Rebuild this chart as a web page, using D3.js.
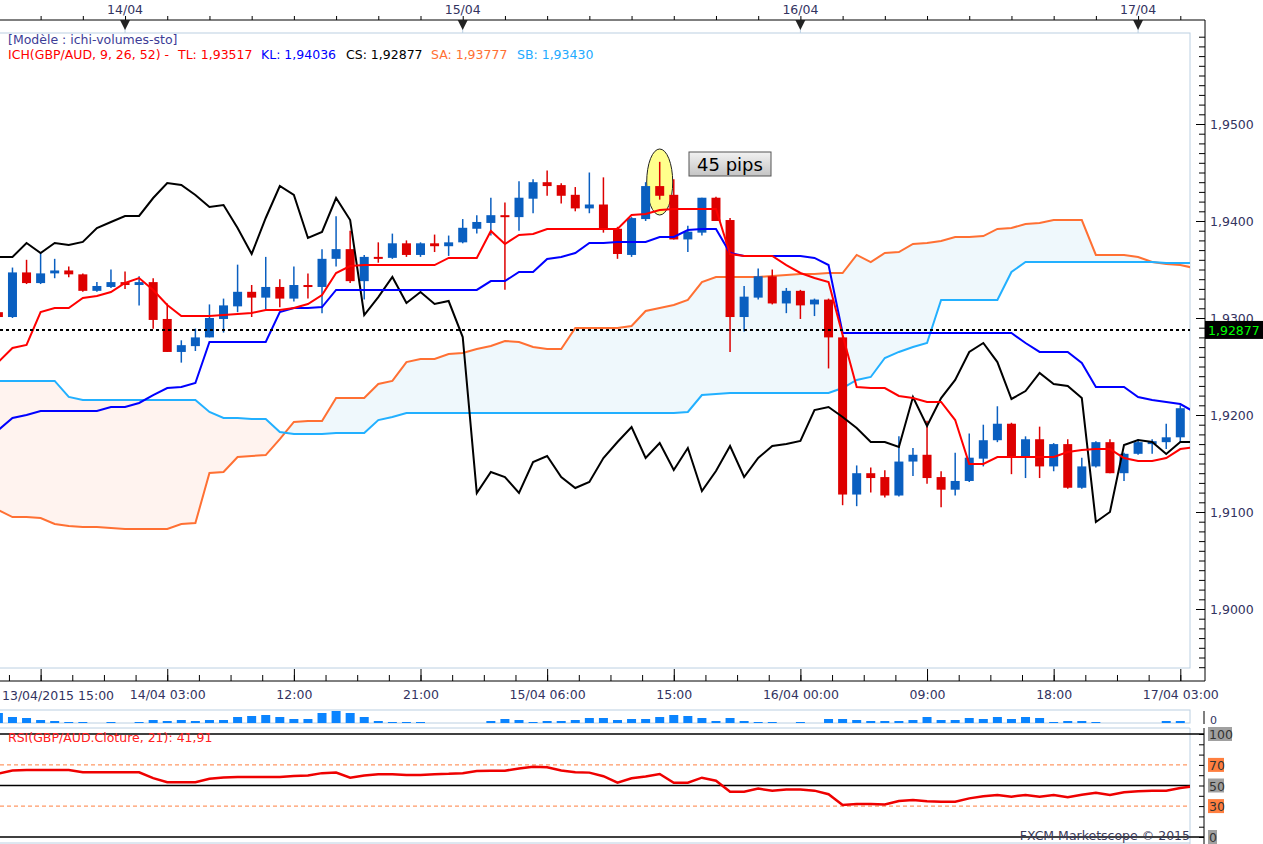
<!DOCTYPE html>
<html>
<head>
<meta charset="utf-8">
<script src="https://cdn.jsdelivr.net/npm/d3@7"></script>
<style>
  body { margin: 0; background: #fff; overflow: hidden; }
  svg { display: block; font-family: "DejaVu Sans", sans-serif; font-size: 12.5px; }
</style>
</head>
<body>
<div id="chart"></div>
<script>
// GBP/AUD hourly, 13/04/2015 15:00 -> 17/04/2015 03:00 (85 bars)
var open  = [1.9306,1.9301,1.9347,1.9336,1.9346,1.9349,1.9345,1.9328,1.9332,1.9337,
             1.9334,1.9337,1.9299,1.9265,1.9271,1.9280,1.9299,1.9312,1.9327,1.9321,
             1.9332,1.9320,1.9334,1.9332,1.9361,1.9371,1.9338,1.9363,1.9362,1.9377,
             1.9365,1.9377,1.9374,1.9378,1.9392,1.9398,1.9406,1.9404,1.9423,1.9440,
             1.9437,1.9427,1.9413,1.9417,1.9392,1.9365,1.9402,1.9436,1.9427,1.9381,
             1.9388,1.9424,1.9401,1.9301,1.9321,1.9343,1.9315,1.9328,1.9314,1.9319,
             1.9280,1.9118,1.9140,1.9136,1.9117,1.9152,1.9159,1.9136,1.9123,1.9132,
             1.9155,1.9174,1.9191,1.9157,1.9175,1.9147,1.9170,1.9125,1.9147,1.9172,
             1.9140,1.9160,1.9170,1.9172,1.9177];
var high  = [1.9309,1.9352,1.9360,1.9367,1.9361,1.9353,1.9346,1.9337,1.9350,1.9348,
             1.9343,1.9341,1.9315,1.9277,1.9289,1.9314,1.9320,1.9355,1.9334,1.9363,
             1.9340,1.9353,1.9346,1.9371,1.9405,1.9390,1.9365,1.9378,1.9387,1.9380,
             1.9378,1.9386,1.9385,1.9402,1.9406,1.9424,1.9419,1.9441,1.9443,1.9452,
             1.9439,1.9435,1.9450,1.9445,1.9394,1.9404,1.9440,1.9461,1.9443,1.9395,
             1.9424,1.9425,1.9403,1.9333,1.9351,1.9350,1.9331,1.9329,1.9320,1.9320,
             1.9282,1.9148,1.9146,1.9143,1.9178,1.9166,1.9194,1.9142,1.9161,1.9181,
             1.9190,1.9209,1.9192,1.9178,1.9188,1.9171,1.9175,1.9156,1.9173,1.9175,
             1.9161,1.9175,1.9175,1.9191,1.9210];
var low   = [1.9299,1.9300,1.9335,1.9335,1.9341,1.9342,1.9327,1.9327,1.9331,1.9330,
             1.9313,1.9289,1.9265,1.9254,1.9266,1.9280,1.9285,1.9306,1.9301,1.9309,
             1.9311,1.9317,1.9320,1.9305,1.9353,1.9336,1.9319,1.9357,1.9361,1.9363,
             1.9363,1.9368,1.9364,1.9377,1.9387,1.9385,1.9329,1.9390,1.9408,1.9426,
             1.9418,1.9410,1.9408,1.9388,1.9361,1.9363,1.9400,1.9422,1.9381,1.9368,
             1.9385,1.9400,1.9265,1.9286,1.9319,1.9314,1.9305,1.9299,1.9302,1.9248,
             1.9107,1.9106,1.9120,1.9115,1.9116,1.9137,1.9129,1.9105,1.9117,1.9131,
             1.9147,1.9172,1.9139,1.9135,1.9135,1.9142,1.9124,1.9124,1.9146,1.9140,
             1.9132,1.9159,1.9160,1.9165,1.9172];
var close = [1.9301,1.9347,1.9336,1.9346,1.9349,1.9345,1.9328,1.9333,1.9337,1.9334,
             1.9337,1.9298,1.9265,1.9272,1.9280,1.9300,1.9313,1.9327,1.9321,1.9332,
             1.9320,1.9334,1.9332,1.9361,1.9371,1.9338,1.9363,1.9362,1.9377,1.9365,
             1.9377,1.9374,1.9378,1.9393,1.9399,1.9406,1.9404,1.9424,1.9440,1.9436,
             1.9426,1.9413,1.9417,1.9391,1.9366,1.9403,1.9436,1.9426,1.9381,1.9389,
             1.9424,1.9400,1.9301,1.9322,1.9343,1.9315,1.9328,1.9313,1.9319,1.9280,
             1.9118,1.9140,1.9135,1.9117,1.9152,1.9159,1.9135,1.9123,1.9132,1.9156,
             1.9174,1.9191,1.9157,1.9175,1.9147,1.9170,1.9125,1.9147,1.9172,1.9140,
             1.9160,1.9172,1.9173,1.9177,1.9207];
var volume = [10,6,5,3,2,1,1,0,1,0, 1,3,2,3,2,3,3,6,7,8, 6,4,4,10,12,10,6,2,1,1,
              1,0,0,0,0,2,4,3,1,2, 2,3,5,5,3,4,4,6,8,7, 5,2,5,2,1,1,0,1,0,4,
              4,3,2,2,2,3,6,3,3,5, 4,6,4,6,5,1,2,2,1,0, 0,0,0,2,2];

// Ichimoku lines (86 slots, last one runs past the right edge)
var tenkan = [1.92546,1.92691,1.92722,1.93062,1.93103,1.93103,1.93206,1.93227,1.93268,1.93361,
              1.93412,1.93289,1.93134,1.93021,1.93021,1.93021,1.93031,1.93041,1.93052,1.93082,
              1.93082,1.93103,1.93144,1.93237,1.93464,1.93536,1.93546,1.93546,1.93546,1.93546,
              1.93546,1.93546,1.93619,1.93619,1.93619,1.93897,1.93763,1.93856,1.93866,1.93918,
              1.93918,1.93918,1.93918,1.93918,1.93918,1.94062,1.94072,1.94113,1.94124,1.94124,
              1.94124,1.94124,1.93660,1.93639,1.93639,1.93639,1.93546,1.93464,1.93412,1.93371,
              1.92825,1.92289,1.92278,1.92278,1.92196,1.92175,1.92134,1.92134,1.91948,1.91495,
              1.91495,1.91567,1.91567,1.91567,1.91567,1.91567,1.91618,1.91639,1.91649,1.91649,
              1.91557,1.91526,1.91526,1.91557,1.91649,1.91670];
var kijun  = [1.91845,1.91969,1.92000,1.92041,1.92041,1.92041,1.92041,1.92041,1.92082,1.92082,
              1.92124,1.92206,1.92278,1.92289,1.92330,1.92753,1.92753,1.92753,1.92753,1.92753,
              1.93062,1.93103,1.93103,1.93113,1.93289,1.93289,1.93289,1.93289,1.93289,1.93289,
              1.93289,1.93289,1.93289,1.93289,1.93289,1.93381,1.93381,1.93474,1.93474,1.93608,
              1.93629,1.93670,1.93773,1.93773,1.93784,1.93784,1.93784,1.93835,1.93835,1.93907,
              1.93918,1.93918,1.93670,1.93639,1.93639,1.93639,1.93639,1.93639,1.93619,1.93546,
              1.92845,1.92845,1.92845,1.92845,1.92845,1.92845,1.92845,1.92845,1.92845,1.92845,
              1.92845,1.92845,1.92845,1.92742,1.92650,1.92650,1.92650,1.92536,1.92289,1.92289,
              1.92289,1.92186,1.92155,1.92134,1.92113,1.92031];
var chikou = [1.93629,1.93629,1.93773,1.93670,1.93773,1.93753,1.93784,1.93928,1.93990,1.94052,
              1.94052,1.94237,1.94392,1.94371,1.94268,1.94144,1.94165,1.93928,1.93660,1.94031,
              1.94361,1.94268,1.93825,1.93887,1.94237,1.94010,1.93031,1.93216,1.93423,1.93155,
              1.93268,1.93144,1.93175,1.92804,1.91196,1.91412,1.91361,1.91196,1.91515,1.91577,
              1.91361,1.91247,1.91309,1.91557,1.91722,1.91876,1.91557,1.91711,1.91433,1.91660,
              1.91216,1.91423,1.91680,1.91361,1.91557,1.91680,1.91701,1.91732,1.92051,1.92082,
              1.91980,1.91866,1.91722,1.91722,1.91670,1.92186,1.91887,1.92175,1.92361,1.92650,
              1.92742,1.92546,1.92165,1.92247,1.92433,1.92320,1.92299,1.92175,1.90897,1.91000,
              1.91691,1.91742,1.91722,1.91598,1.91722,1.91722];
var senkouA = [1.91020,1.90948,1.90948,1.90938,1.90876,1.90856,1.90845,1.90845,1.90835,1.90825,
               1.90825,1.90825,1.90825,1.90876,1.90886,1.91402,1.91412,1.91567,1.91577,1.91587,
               1.91752,1.91928,1.91938,1.91938,1.92175,1.92175,1.92175,1.92320,1.92351,1.92546,
               1.92577,1.92577,1.92629,1.92639,1.92680,1.92711,1.92763,1.92753,1.92701,1.92680,
               1.92680,1.92897,1.92897,1.92897,1.92897,1.92918,1.93072,1.93103,1.93134,1.93186,
               1.93371,1.93423,1.93423,1.93423,1.93423,1.93433,1.93443,1.93454,1.93454,1.93464,
               1.93464,1.93650,1.93577,1.93670,1.93680,1.93763,1.93773,1.93794,1.93835,1.93835,
               1.93845,1.93918,1.93928,1.93969,1.93979,1.94010,1.94010,1.94010,1.93650,1.93650,
               1.93650,1.93629,1.93577,1.93557,1.93546,1.93515];
var senkouB = [1.92351,1.92351,1.92351,1.92351,1.92351,1.92186,1.92155,1.92155,1.92155,1.92155,
               1.92155,1.92155,1.92155,1.92155,1.92155,1.92031,1.91969,1.91969,1.91959,1.91959,
               1.91825,1.91804,1.91804,1.91804,1.91814,1.91814,1.91814,1.91948,1.91980,1.92021,
               1.92021,1.92021,1.92021,1.92021,1.92021,1.92021,1.92021,1.92021,1.92021,1.92021,
               1.92021,1.92021,1.92021,1.92021,1.92021,1.92021,1.92021,1.92021,1.92021,1.92031,
               1.92206,1.92216,1.92227,1.92227,1.92227,1.92227,1.92227,1.92227,1.92227,1.92227,
               1.92278,1.92361,1.92392,1.92588,1.92650,1.92701,1.92742,1.93186,1.93186,1.93186,
               1.93186,1.93186,1.93474,1.93577,1.93577,1.93577,1.93577,1.93577,1.93577,1.93577,
               1.93577,1.93577,1.93577,1.93567,1.93567,1.93567];

// RSI(21)
var rsi = [61.5,64.5,65,65,65,65,62.8,62.8,62.8,62.8, 62.8,57.2,53.1,53.1,53.1,56.5,57.8,58.3,58.3,58.2,
           58.3,59.2,59.8,62,62.5,57.6,59.8,61,61,60.2, 60.2,61,61.3,62,64,64.2,64.4,66.5,68.3,67.7,
           64.5,62.8,62.5,59,52.7,57,58.8,61.2,52.7,52.7, 57.6,54.7,44,44,47,45,46,46,45,41.5,
           31.1,32,32,31.5,35,35.9,34.8,34.3,34.3,37.5, 39.5,40.8,39.2,40.8,39.2,40.8,38.5,41,43,40.8,
           43.5,44.5,45,45,47.5,49.5];

var priceTicks = [1.90, 1.91, 1.92, 1.93, 1.94, 1.95];
var rsiLevels  = [100, 70, 50, 30, 0];
var lastPrice  = 1.92877;

var legendItems = [
  { text: "ICH(GBP/AUD, 9, 26, 52) -", color: "#ff0000", x: 8 },
  { text: "TL: 1,93517", color: "#ff0000", x: 178 },
  { text: "KL: 1,94036", color: "#0000ff", x: 261 },
  { text: "CS: 1,92877", color: "#000000", x: 346 },
  { text: "SA: 1,93777", color: "#ff7033", x: 431 },
  { text: "SB: 1,93430", color: "#22aaff", x: 517 }
];

var W = 1263, H = 844;
var plotR = 1190, plotT = 33, plotB = 668, axisX = 1205;
var navy = "#33335f";

var locale = d3.formatLocale({ decimal: ",", thousands: " ", grouping: [3], currency: ["", ""] });
var fmtPrice = locale.format(".4f");
var fmtLast = locale.format(".5f");

var t0 = new Date(2015, 3, 13, 15);
var hours = d3.timeHours(t0, d3.timeHour.offset(t0, 86));
var tEnd = hours[85];

var x = d3.scaleTime().domain([hours[0], hours[84]]).range([-1.6, 1180.3]);
var y = d3.scaleLinear().domain([1.90, 1.95]).range([609, 124]);
var yVol = d3.scaleLinear().domain([0, 12]).range([723, 711]);
var yRsi = d3.scaleLinear().domain([0, 100]).range([837, 734]);

var svg = d3.select("#chart").append("svg")
  .attr("width", W)
  .attr("height", H);

var defs = svg.append("defs");
defs.append("clipPath").attr("id", "plotClip")
  .append("rect").attr("x", 0).attr("y", plotT).attr("width", plotR).attr("height", plotB - plotT);
defs.append("clipPath").attr("id", "rsiClip")
  .append("rect").attr("x", 0).attr("y", 728).attr("width", plotR).attr("height", 116);
defs.append("clipPath").attr("id", "volLabelClip")
  .append("rect").attr("x", 1205).attr("y", 700).attr("width", 58).attr("height", 26);

// clip regions above / below the senkou B line, for the two cloud colours
defs.append("clipPath").attr("id", "aboveSB")
  .append("path")
  .attr("d", d3.area().x(function(d, i) { return x(hours[i]); }).y0(0).y1(function(d) { return y(d); })(senkouB));
defs.append("clipPath").attr("id", "belowSB")
  .append("path")
  .attr("d", d3.area().x(function(d, i) { return x(hours[i]); }).y0(H).y1(function(d) { return y(d); })(senkouB));

var pipsGrad = defs.append("linearGradient").attr("id", "pipsGrad")
  .attr("x1", "0%").attr("y1", "0%").attr("x2", "0%").attr("y2", "100%");
pipsGrad.append("stop").attr("offset", "0%").attr("stop-color", "#f2f2f2");
pipsGrad.append("stop").attr("offset", "100%").attr("stop-color", "#c4c4c4");

/****************************************
* Frames
*****************************************/
svg.append("rect")
  .attr("x", -1).attr("y", plotT).attr("width", plotR + 1).attr("height", plotB - plotT)
  .attr("fill", "none").attr("stroke", "#bcd0e2");

svg.append("rect")
  .attr("x", -1).attr("y", 710).attr("width", plotR + 1).attr("height", 13)
  .attr("fill", "none").attr("stroke", "#bcd0e2");
svg.append("line").attr("x1", 0).attr("x2", plotR).attr("y1", 728).attr("y2", 728).attr("stroke", "#bcd0e2");
svg.append("line").attr("x1", plotR).attr("x2", plotR).attr("y1", 728).attr("y2", H).attr("stroke", "#bcd0e2");
svg.append("line").attr("x1", 0).attr("x2", plotR).attr("y1", 843).attr("y2", 843).attr("stroke", "#bcd0e2");

/****************************************
* Main price panel
*****************************************/
var main = svg.append("g").attr("clip-path", "url(#plotClip)");

var cloudArea = d3.area()
  .x(function(d, i) { return x(hours[i]); })
  .y0(function(d, i) { return y(senkouB[i]); })
  .y1(function(d) { return y(d); });

main.append("g").attr("clip-path", "url(#aboveSB)")
  .append("path").datum(senkouA).attr("d", cloudArea).attr("fill", "#eff8fc");
main.append("g").attr("clip-path", "url(#belowSB)")
  .append("path").datum(senkouA).attr("d", cloudArea).attr("fill", "#fff3ef");

var line = d3.line()
  .x(function(d, i) { return x(hours[i]); })
  .y(function(d) { return y(d); });

main.append("path").datum(senkouA).attr("d", line)
  .attr("fill", "none").attr("stroke", "#ff7033").attr("stroke-width", 2);
main.append("path").datum(senkouB).attr("d", line)
  .attr("fill", "none").attr("stroke", "#22b0ff").attr("stroke-width", 2);

// highlight ellipse around the 15/04 13:00 bar
main.append("ellipse")
  .attr("cx", x(hours[47])).attr("cy", 182)
  .attr("rx", 13).attr("ry", 33)
  .attr("fill", "#ffff8c").attr("stroke", "#222").attr("stroke-width", 1);

// candles
var candles = main.append("g").selectAll("g")
  .data(open.map(function(o, i) { return { t: hours[i], o: o, h: high[i], l: low[i], c: close[i] }; }))
  .join("g")
  .attr("class", "candle");

candles.append("line")
  .attr("x1", function(d) { return x(d.t); })
  .attr("x2", function(d) { return x(d.t); })
  .attr("y1", function(d) { return y(d.h); })
  .attr("y2", function(d) { return y(d.l); })
  .attr("stroke", function(d) { return d.c >= d.o ? "#0a5fc0" : "#dd0000"; })
  .attr("stroke-width", 1.5);

candles.append("rect")
  .attr("x", function(d) { return x(d.t) - 4.5; })
  .attr("width", 9)
  .attr("y", function(d) { return y(Math.max(d.o, d.c)); })
  .attr("height", function(d) { return Math.max(2, Math.abs(y(d.o) - y(d.c))); })
  .attr("fill", function(d) { return d.c >= d.o ? "#0a5fc0" : "#dd0000"; });

main.append("path").datum(chikou).attr("d", line)
  .attr("fill", "none").attr("stroke", "#000").attr("stroke-width", 2);
main.append("path").datum(kijun).attr("d", line)
  .attr("fill", "none").attr("stroke", "#0000ff").attr("stroke-width", 2);
main.append("path").datum(tenkan).attr("d", line)
  .attr("fill", "none").attr("stroke", "#ff0000").attr("stroke-width", 2);

// last price dotted line
main.append("line")
  .attr("x1", 0).attr("x2", plotR)
  .attr("y1", y(lastPrice)).attr("y2", y(lastPrice))
  .attr("stroke", "#000").attr("stroke-width", 2).attr("stroke-dasharray", "3,3");

// "45 pips" note
svg.append("rect")
  .attr("x", 689).attr("y", 152).attr("width", 82).attr("height", 24)
  .attr("fill", "url(#pipsGrad)").attr("stroke", "#555");
svg.append("text")
  .attr("x", 730).attr("y", 171)
  .attr("text-anchor", "middle")
  .style("font-size", "18px")
  .attr("fill", "#000")
  .text("45 pips");

// legend
svg.append("text").attr("x", 8).attr("y", 44).attr("fill", "#3c3c96").text("[Modèle : ichi-volumes-sto]");
svg.append("g").selectAll("text").data(legendItems).join("text")
  .attr("x", function(d) { return d.x; })
  .attr("y", 59)
  .attr("fill", function(d) { return d.color; })
  .text(function(d) { return d.text; });

/****************************************
* Price axis (right)
*****************************************/
svg.append("line").attr("x1", axisX).attr("x2", axisX).attr("y1", 20).attr("y2", 681).attr("stroke", "#000");

var minorPrice = d3.range(1894, 1960).map(function(v) { return v / 1000; });
var pAxisMinor = svg.append("g").attr("transform", "translate(" + axisX + ",0)")
  .call(d3.axisLeft(y).tickValues(minorPrice).tickSize(6).tickFormat(""));
pAxisMinor.select(".domain").remove();
pAxisMinor.selectAll("line").attr("stroke", "#000");

var pAxisMajor = svg.append("g").attr("transform", "translate(" + axisX + ",0)")
  .call(d3.axisLeft(y).tickValues(priceTicks).tickSize(9).tickFormat(""));
pAxisMajor.select(".domain").remove();

var pLabels = svg.append("g").attr("transform", "translate(" + axisX + ",0)")
  .call(d3.axisRight(y).tickValues(priceTicks).tickSize(0).tickPadding(5).tickFormat(fmtPrice));
pLabels.select(".domain").remove();
pLabels.selectAll("text").attr("fill", navy).style("font-size", "12.5px").style("font-family", "DejaVu Sans");

// last price box
svg.append("rect")
  .attr("x", axisX).attr("y", y(lastPrice) - 9).attr("width", W - axisX).attr("height", 18)
  .attr("fill", "#000");
svg.append("text")
  .attr("x", axisX + 3).attr("y", y(lastPrice) + 5)
  .attr("fill", "#00ff00")
  .text(fmtLast(lastPrice));

/****************************************
* Time axes
*****************************************/
// top: day markers
svg.append("line").attr("x1", 0).attr("x2", axisX).attr("y1", 20).attr("y2", 20).attr("stroke", "#000");
var topTicks = d3.timeHour.range(d3.timeHour.offset(t0, 3), tEnd, 3);
var tAxis = svg.append("g").attr("transform", "translate(0,20)")
  .call(d3.axisTop(x).tickValues(topTicks).tickSize(4).tickFormat(""));
tAxis.select(".domain").remove();

var days = d3.timeDay.range(t0, tEnd);
var dayMarks = svg.append("g").selectAll("g").data(days).join("g")
  .attr("transform", function(d) { return "translate(" + x(d) + ",0)"; });
dayMarks.append("line").attr("y1", 28).attr("y2", plotT).attr("stroke", "#bcd0e2");
dayMarks.append("path").attr("d", "M-5,20L5,20L0,30Z").attr("fill", "#222");
dayMarks.append("text").attr("y", 14).attr("text-anchor", "middle").attr("fill", navy)
  .text(d3.timeFormat("%d/%m"));

// bottom: hours
svg.append("line").attr("x1", 0).attr("x2", axisX).attr("y1", 681).attr("y2", 681).attr("stroke", "#000");
var majorTimes = d3.timeHour.range(d3.timeHour.offset(t0, 3), tEnd, 9);
var minorTimes = d3.timeMinute.range(d3.timeMinute.offset(t0, 45), tEnd, 135);

var bMinor = svg.append("g").attr("transform", "translate(0,681)")
  .call(d3.axisTop(x).tickValues(minorTimes).tickSize(6).tickFormat(""));
bMinor.select(".domain").remove();
var bMajor = svg.append("g").attr("transform", "translate(0,681)")
  .call(d3.axisTop(x).tickValues(majorTimes).tickSize(12).tickFormat(""));
bMajor.select(".domain").remove();

var labelTimes = majorTimes.slice(1);
var prevDay = d3.timeDay.floor(majorTimes[0]);
var bLabels = svg.append("g").attr("transform", "translate(0,681)")
  .call(d3.axisBottom(x).tickValues(labelTimes).tickSize(0).tickPadding(9)
    .tickFormat(function(d) {
      var day = d3.timeDay.floor(d);
      var s = +day !== +prevDay ? d3.timeFormat("%d/%m %H:%M")(d) : d3.timeFormat("%H:%M")(d);
      prevDay = day;
      return s;
    }));
bLabels.select(".domain").remove();
bLabels.selectAll("text").attr("fill", navy).style("font-size", "12.5px").style("font-family", "DejaVu Sans");

svg.append("text").attr("x", 2).attr("y", 700).attr("fill", navy)
  .text(d3.timeFormat("%d/%m/%Y %H:%M")(t0));

/****************************************
* Volume strip
*****************************************/
svg.append("g").selectAll("rect")
  .data(volume.map(function(v, i) { return { t: hours[i], v: v }; }).filter(function(d) { return d.v > 0; }))
  .join("rect")
  .attr("x", function(d) { return x(d.t) - 4.5; })
  .attr("width", 9)
  .attr("y", function(d) { return yVol(d.v); })
  .attr("height", function(d) { return yVol(0) - yVol(d.v); })
  .attr("fill", "#0a84ff");

svg.append("line").attr("x1", axisX - 1).attr("x2", axisX - 1).attr("y1", 711).attr("y2", 724).attr("stroke", "#000");
svg.append("text").attr("x", 1210).attr("y", 724).attr("fill", navy)
  .style("font-size", "11px")
  .attr("clip-path", "url(#volLabelClip)").text("0");

/****************************************
* RSI panel
*****************************************/
var rsiG = svg.append("g").attr("clip-path", "url(#rsiClip)");

rsiG.selectAll("line.level").data(rsiLevels).join("line")
  .attr("class", "level")
  .attr("x1", 0).attr("x2", plotR)
  .attr("y1", function(d) { return yRsi(d); })
  .attr("y2", function(d) { return yRsi(d); })
  .attr("stroke", function(d) { return d === 70 || d === 30 ? "#ff7f3f" : "#000"; })
  .attr("stroke-width", function(d) { return d === 70 || d === 30 ? 1 : 1.5; })
  .attr("stroke-dasharray", function(d) { return d === 70 || d === 30 ? "4,3" : null; });

// 100 and 0 run on to the axis
svg.selectAll("line.edge").data([100, 0]).join("line")
  .attr("class", "edge")
  .attr("x1", plotR).attr("x2", axisX - 1)
  .attr("y1", function(d) { return yRsi(d); })
  .attr("y2", function(d) { return yRsi(d); })
  .attr("stroke", "#000").attr("stroke-width", 1.5);

rsiG.append("path").datum(rsi)
  .attr("d", d3.line().x(function(d, i) { return x(hours[i]); }).y(function(d) { return yRsi(d); }))
  .attr("fill", "none").attr("stroke", "#ee0000").attr("stroke-width", 2.5);

svg.append("text").attr("x", 8).attr("y", 742).attr("fill", "#ff2020")
  .text("RSI(GBP/AUD.Cloture, 21): " + locale.format(".2f")(41.91));

svg.append("line").attr("x1", axisX - 1).attr("x2", axisX - 1).attr("y1", 728).attr("y2", H).attr("stroke", "#000");
var rAxis = svg.append("g").attr("transform", "translate(" + (axisX - 1) + ",0)")
  .call(d3.axisLeft(yRsi).tickValues(d3.range(0, 101, 10)).tickSize(5).tickFormat(""));
rAxis.select(".domain").remove();

var rLab = svg.append("g").selectAll("g").data(rsiLevels).join("g")
  .attr("transform", function(d) { return "translate(" + (axisX + 3) + "," + yRsi(d) + ")"; });
rLab.append("rect")
  .attr("x", 0).attr("y", -7)
  .attr("width", function(d) { return d === 100 ? 24 : (d === 0 ? 9 : 16); })
  .attr("height", 14)
  .attr("fill", function(d) { return d === 70 || d === 30 ? "#ff7f3f" : "#a0a0a0"; });
rLab.append("text").attr("x", 1).attr("y", 5).attr("fill", "#333")
  .text(function(d) { return d; });

svg.append("text").attr("x", plotR).attr("y", 840).attr("text-anchor", "end").attr("fill", "#3a3a5a")
  .text("FXCM Marketscope © 2015");
</script>
</body>
</html>
